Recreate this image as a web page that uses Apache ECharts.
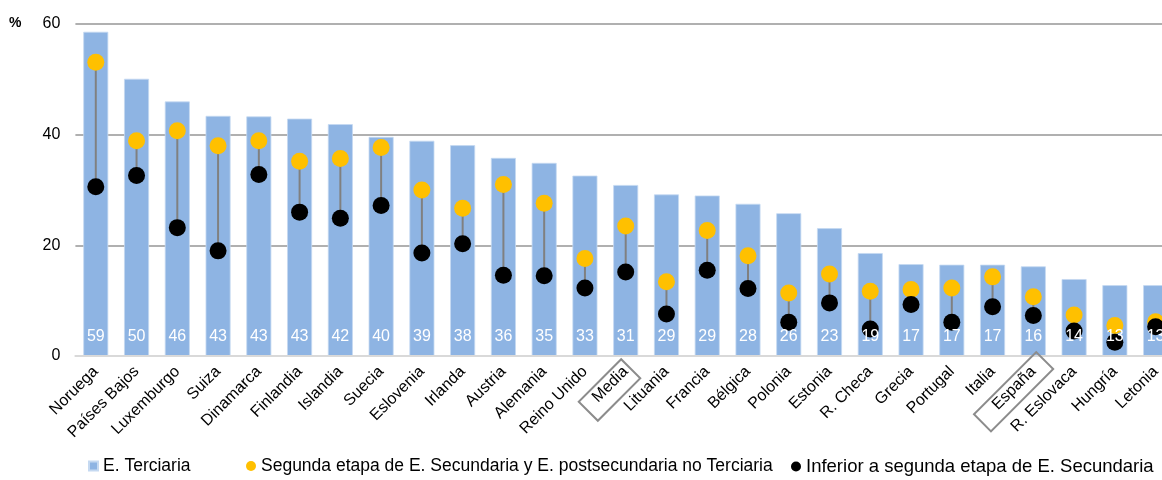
<!DOCTYPE html>
<html>
<head>
<meta charset="utf-8">
<script src="https://cdn.jsdelivr.net/npm/echarts@6/dist/echarts.min.js"></script>
<style>
  html, body { margin: 0; padding: 0; background: #fff; }
  #chart { width: 1162px; height: 480px; }
</style>
</head>
<body>
<div id="chart"></div>
<script>
// Población adulta por nivel educativo (%), países ordenados por E. Terciaria
const categories = ['Noruega', 'Países Bajos', 'Luxemburgo', 'Suiza', 'Dinamarca', 'Finlandia', 'Islandia',
  'Suecia', 'Eslovenia', 'Irlanda', 'Austria', 'Alemania', 'Reino Unido', 'Media', 'Lituania', 'Francia',
  'Bélgica', 'Polonia', 'Estonia', 'R. Checa', 'Grecia', 'Portugal', 'Italia', 'España', 'R. Eslovaca',
  'Hungría', 'Letonia'];

const terciaria = [58.6, 50.1, 46.0, 43.4, 43.3, 42.9, 41.9, 39.6, 38.9, 38.1, 35.8, 34.9, 32.6, 30.9,
  29.2, 29.0, 27.5, 25.8, 23.1, 18.6, 16.6, 16.5, 16.5, 16.2, 13.9, 12.8, 12.8];

const segunda = [53.1, 38.9, 40.7, 38.0, 38.9, 35.2, 35.7, 37.7, 30.0, 26.7, 31.0, 27.6, 17.6, 23.5,
  13.4, 22.7, 18.1, 11.4, 14.8, 11.7, 12.0, 12.3, 14.3, 10.7, 7.4, 5.5, 6.2];

const inferior = [30.6, 32.6, 23.2, 19.0, 32.8, 26.0, 24.9, 27.2, 18.6, 20.3, 14.6, 14.5, 12.3, 15.2,
  7.6, 15.5, 12.2, 6.1, 9.6, 4.9, 9.3, 6.1, 8.9, 7.3, 4.5, 2.5, 5.3];

const yTicks = [0, 20, 40, 60];

const highlighted = ['Media', 'España'];

const seriesNames = [
  'E. Terciaria',
  'Segunda etapa de E. Secundaria y E. postsecundaria no Terciaria',
  'Inferior a segunda etapa de E. Secundaria'
];

const FONT = '"Liberation Sans", Arial, sans-serif';

// Frame around a highlighted category label, in the rotated label frame
// (u along the text, v across it), relative to the tick on the axis.
const frameStyle = {
  'Media':  { u: -35.5, v: 12.6, len: 60, h: 27 },
  'España': { u: -39.2, v: 11.3, len: 88, h: 24 }
};

const legendText = (size) => ({ fontFamily: FONT, fontSize: size, color: '#000', lineHeight: 18 });

const chart = echarts.init(document.getElementById('chart'), null, { renderer: 'canvas' });

const option = {
  animation: false,
  textStyle: { fontFamily: FONT },
  title: {
    text: '%',
    left: 9,
    top: 16,
    padding: 0,
    textStyle: { fontFamily: FONT, fontSize: 14, fontWeight: 'bold', color: '#000' }
  },
  grid: {
    left: 75.4,
    right: -14,
    top: 24,
    bottom: 124,
    containLabel: false,
    outerBoundsMode: 'none'
  },
  legend: [
    {
      data: [seriesNames[0]], left: 88, top: 457, padding: 0,
      icon: 'rect', itemWidth: 9, itemHeight: 9, selectedMode: false,
      textStyle: legendText(17.5)
    },
    {
      data: [seriesNames[1]], left: 246, top: 457, padding: 0,
      icon: 'circle', itemWidth: 10, itemHeight: 10, selectedMode: false,
      textStyle: legendText(17.5)
    },
    {
      data: [seriesNames[2]], left: 791, top: 457, padding: 0,
      icon: 'circle', itemWidth: 10, itemHeight: 10, selectedMode: false,
      textStyle: legendText(18.5)
    }
  ],
  xAxis: {
    type: 'category',
    data: categories,
    boundaryGap: true,
    axisLine: { show: true, lineStyle: { color: '#d9d9d9', width: 2 } },
    axisTick: { show: false },
    axisLabel: {
      interval: 0,
      rotate: 45,
      margin: 13,
      fontFamily: FONT,
      fontSize: 16,
      color: '#000'
    },
    z: 5
  },
  yAxis: {
    type: 'value',
    min: yTicks[0],
    max: yTicks[yTicks.length - 1],
    interval: yTicks[1] - yTicks[0],
    axisLine: { show: false },
    axisTick: { show: false },
    axisLabel: { margin: 15, fontFamily: FONT, fontSize: 16, color: '#000' },
    splitLine: { show: true, lineStyle: { color: ['#d9d9d9', '#969696', '#969696', '#969696'], width: 1.6 } }
  },
  series: [
    {
      name: seriesNames[0],
      type: 'bar',
      data: terciaria,
      barWidth: 25,
      barGap: '-100%',
      itemStyle: { color: '#8eb4e3', borderColor: '#c5d9f1', borderWidth: 0.8 },
      z: 1
    },
    {
      // grey connector between the two secondary-level markers
      name: 'conector',
      type: 'custom',
      coordinateSystem: 'cartesian2d',
      encode: { x: 0, y: [1, 2] },
      data: categories.map((c, i) => [i, segunda[i], inferior[i]]),
      renderItem: function (params, api) {
        const x = api.value(0);
        const p1 = api.coord([x, api.value(1)]);
        const p2 = api.coord([x, api.value(2)]);
        return {
          type: 'line',
          shape: { x1: p1[0], y1: p1[1], x2: p2[0], y2: p2[1] },
          style: { stroke: '#808080', lineWidth: 2 }
        };
      },
      z: 2,
      silent: true
    },
    {
      name: seriesNames[1],
      type: 'scatter',
      data: segunda,
      symbol: 'circle',
      symbolSize: 17,
      itemStyle: { color: '#ffc000', opacity: 1 },
      z: 3
    },
    {
      name: seriesNames[2],
      type: 'scatter',
      data: inferior,
      symbol: 'circle',
      symbolSize: 17,
      itemStyle: { color: '#000000', opacity: 1 },
      z: 4
    },
    {
      // value labels for the tertiary bars, kept above the markers
      name: 'etiquetas',
      type: 'bar',
      data: terciaria,
      barWidth: 25,
      barGap: '-100%',
      itemStyle: { color: 'rgba(0,0,0,0)' },
      label: {
        show: true,
        position: 'insideBottom',
        distance: 11,
        fontFamily: FONT,
        fontSize: 16,
        color: '#ffffff',
        formatter: function (p) { return Math.round(p.value); }
      },
      silent: true,
      z: 6
    },
    {
      // frames around the highlighted category names
      name: 'marcos',
      type: 'custom',
      coordinateSystem: 'cartesian2d',
      clip: false,
      encode: { x: 0, y: 1 },
      data: highlighted.map(name => [name, 0]),
      renderItem: function (params, api) {
        const idx = api.value(0);
        const p = api.coord([idx, 0]);
        const f = frameStyle[categories[idx]];
        return {
          type: 'rect',
          x: p[0],
          y: p[1],
          rotation: Math.PI / 4,
          shape: { x: f.u - f.len / 2, y: f.v - f.h / 2, width: f.len, height: f.h },
          style: { fill: 'none', stroke: '#8c8c8c', lineWidth: 2 }
        };
      },
      silent: true,
      z: 7
    }
  ]
};

chart.setOption(option);
</script>
</body>
</html>
